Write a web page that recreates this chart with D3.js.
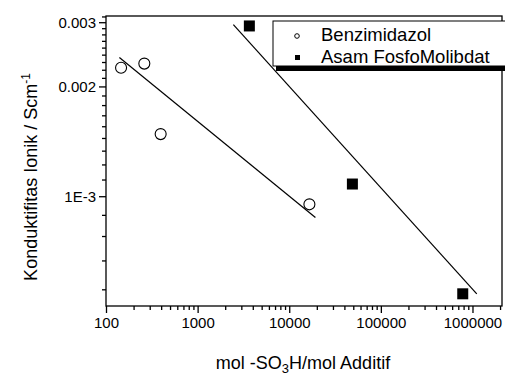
<!DOCTYPE html>
<html>
<head>
<meta charset="utf-8">
<script src="https://cdn.jsdelivr.net/npm/d3@7"></script>
<style>
  body { margin: 0; background: #fff; }
  svg { display: block; font-family: "Liberation Sans", Arial, sans-serif; }
</style>
</head>
<body>
<svg id="chart"></svg>
<script>
// Benzimidazol (open circles)
const benzX = [146, 262, 395, 16600];
const benzY = [0.00225, 0.00231, 0.00148, 0.00095];
const benzFitX = [140, 19300];
const benzFitY = [0.0024, 0.000874];

// Asam FosfoMolibdat (filled squares)
const asamX = [3670, 48900, 783000];
const asamY = [0.00293, 0.00108, 0.00054];
const asamFitX = [2455, 1114000];
const asamFitY = [0.002956, 0.00054];

const legendLabels = ["Benzimidazol", "Asam FosfoMolibdat"];
const xTickValues = [100, 1000, 10000, 100000, 1000000];
const xTickLabels = ["100", "1000", "10000", "100000", "1000000"];
const yTickValues = [0.001, 0.002, 0.003];
const yTickLabels = ["1E-3", "0.002", "0.003"];

let svgWidth = 505;
let svgHeight = 376;
let margin = {top: 16, right: 3, bottom: 70, left: 106};
let chartWidth = svgWidth - margin.left - margin.right;
let chartHeight = svgHeight - margin.top - margin.bottom;

let xScale = d3.scaleLog().domain([100, 2.1e6]).range([0, chartWidth]);
let yScale = d3.scaleLog().domain([0.0005, 0.00312]).range([chartHeight, 0]);

let svg = d3.select("#chart")
    .attr("width", svgWidth)
    .attr("height", svgHeight);

let g = svg.append("g")
    .attr("transform", "translate(" + margin.left + "," + margin.top + ")");

// minor ticks: x = 2..9 per decade, y = 8 per major step
let xMinor = xScale.ticks().filter(v => xTickValues.indexOf(v) < 0);
let yStep = 0.001 / 9;
let yMinor = [];
for (let v = 0.001 - yStep; v > 0.0005; v -= yStep) yMinor.push(v);
for (let k = 0; k < yTickValues.length; k++) {
    for (let i = 1; i <= 8; i++) {
        let v = yTickValues[k] + i * yStep;
        if (v <= 0.00312) yMinor.push(v);
    }
}

// x axis
g.append("g")
    .attr("transform", "translate(0," + chartHeight + ")")
    .call(d3.axisBottom(xScale).tickValues(xTickValues)
        .tickFormat((d, i) => xTickLabels[i]).tickSize(7).tickPadding(4));
g.append("g")
    .attr("transform", "translate(0," + chartHeight + ")")
    .call(d3.axisBottom(xScale).tickValues(xMinor).tickFormat("").tickSize(4));

// y axis
g.append("g")
    .call(d3.axisLeft(yScale).tickValues(yTickValues)
        .tickFormat((d, i) => yTickLabels[i]).tickSize(7).tickPadding(3));
g.append("g")
    .call(d3.axisLeft(yScale).tickValues(yMinor).tickFormat("").tickSize(4));

g.selectAll(".domain").remove();
g.selectAll(".tick line").attr("stroke", "#000").attr("stroke-width", 1.3);
g.selectAll(".tick text").attr("fill", "#000").attr("font-size", 15)
    .attr("font-family", "Liberation Sans, Arial, sans-serif");

// frame
g.append("rect")
    .attr("width", chartWidth)
    .attr("height", chartHeight)
    .attr("fill", "none")
    .attr("stroke", "#000")
    .attr("stroke-width", 1.3);

// fit lines
let line = d3.line()
    .x(d => xScale(d[0]))
    .y(d => yScale(d[1]));

g.append("path")
    .datum(d3.zip(benzFitX, benzFitY))
    .attr("d", line)
    .attr("fill", "none")
    .attr("stroke", "#000")
    .attr("stroke-width", 1.2);

g.append("path")
    .datum(d3.zip(asamFitX, asamFitY))
    .attr("d", line)
    .attr("fill", "none")
    .attr("stroke", "#000")
    .attr("stroke-width", 1.2);

// points
g.selectAll(".benz")
    .data(d3.zip(benzX, benzY))
    .join("circle")
    .attr("class", "benz")
    .attr("cx", d => xScale(d[0]))
    .attr("cy", d => yScale(d[1]))
    .attr("r", 5.5)
    .attr("fill", "#fff")
    .attr("stroke", "#000")
    .attr("stroke-width", 1.1);

let sq = 11;
g.selectAll(".asam")
    .data(d3.zip(asamX, asamY))
    .join("rect")
    .attr("class", "asam")
    .attr("x", d => xScale(d[0]) - sq / 2)
    .attr("y", d => yScale(d[1]) - sq / 2)
    .attr("width", sq)
    .attr("height", sq)
    .attr("fill", "#000");

// legend
let legend = svg.append("g").attr("transform", "translate(273,21)");
legend.append("rect")
    .attr("x", 3).attr("y", 5)
    .attr("width", 240).attr("height", 45)
    .attr("fill", "#000");
legend.append("rect")
    .attr("width", 240).attr("height", 45)
    .attr("fill", "#fff")
    .attr("stroke", "#000")
    .attr("stroke-width", 1);
legend.append("circle")
    .attr("cx", 24).attr("cy", 15).attr("r", 2.3)
    .attr("fill", "#fff").attr("stroke", "#000").attr("stroke-width", 1);
legend.append("rect")
    .attr("x", 22).attr("y", 34).attr("width", 5).attr("height", 5)
    .attr("fill", "#000");
legend.selectAll(".lbl")
    .data(legendLabels)
    .join("text")
    .attr("class", "lbl")
    .attr("x", 48)
    .attr("y", (d, i) => 20 + i * 22)
    .attr("font-size", 18.5)
    .text(d => d);

// axis titles
let xTitle = svg.append("text")
    .attr("x", margin.left + 197)
    .attr("y", 369)
    .attr("text-anchor", "middle")
    .attr("font-size", 18);
xTitle.append("tspan").text("mol -SO");
xTitle.append("tspan").attr("font-size", 13).attr("dy", 4).text("3");
xTitle.append("tspan").attr("dy", -4).text("H/mol Additif");

let yTitle = svg.append("text")
    .attr("transform", "translate(37,177) rotate(-90)")
    .attr("text-anchor", "middle")
    .attr("font-size", 18);
yTitle.append("tspan").text("Konduktifitas Ionik / Scm");
yTitle.append("tspan").attr("font-size", 12).attr("dy", -7).text("-1");
</script>
</body>
</html>
